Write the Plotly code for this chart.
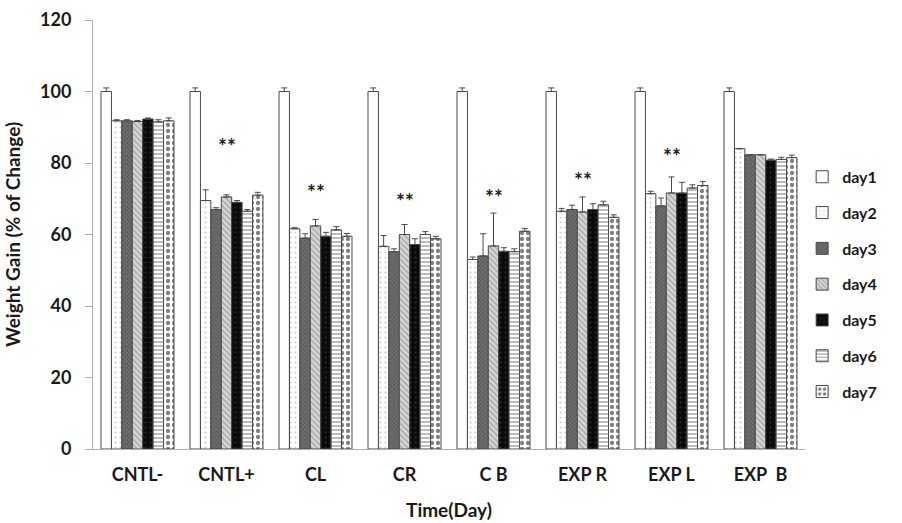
import plotly.graph_objects as go

categories = ["CNTL-", "CNTL+", "CL", "CR", "C B", "EXP R", "EXP L", "EXP  B"]
day_names = ["day1", "day2", "day3", "day4", "day5", "day6", "day7"]

# values per day across categories
day1 = [100, 100, 100, 100, 100, 100, 100, 100]
day2 = [91.8, 69.5, 61.6, 56.7, 53.0, 66.5, 71.4, 84.0]
day3 = [91.8, 67.0, 59.0, 55.2, 54.0, 67.0, 68.0, 82.3]
day4 = [91.6, 70.5, 62.4, 60.0, 56.8, 66.3, 71.6, 82.3]
day5 = [92.3, 69.0, 59.5, 57.2, 55.3, 67.0, 71.6, 80.8]
day6 = [91.5, 66.5, 61.3, 60.0, 55.2, 68.3, 73.0, 81.0]
day7 = [91.8, 71.0, 59.5, 58.8, 60.9, 64.8, 73.7, 81.5]

err1 = [1.0, 1.0, 1.0, 1.0, 1.0, 1.0, 1.0, 1.0]
err2 = [0.3, 3.0, 0.3, 3.0, 0.7, 0.8, 0.7, 0.0]
err3 = [0.3, 0.5, 1.2, 0.8, 6.2, 1.2, 2.2, 0.0]
err4 = [0.3, 0.6, 1.8, 2.8, 9.2, 4.2, 4.5, 0.0]
err5 = [0.3, 0.5, 1.1, 1.6, 1.0, 1.6, 3.0, 0.3]
err6 = [0.6, 0.5, 0.9, 0.8, 0.8, 1.0, 0.9, 0.6]
err7 = [0.8, 0.8, 0.8, 0.7, 0.8, 0.7, 1.1, 0.7]

sig_categories = ["CNTL+", "CL", "CR", "C B", "EXP R", "EXP L"]
sig_y = [85, 72, 69.6, 70.7, 75.5, 82]

y_ticks = [0, 20, 40, 60, 80, 100, 120]

values = [day1, day2, day3, day4, day5, day6, day7]
errors = [err1, err2, err3, err4, err5, err6, err7]

patterns = [
    dict(shape="", bgcolor="white"),
    dict(shape=".", bgcolor="white", fgcolor="#9a9a9a", size=5, solidity=0.15),
    dict(shape="x", bgcolor="#6e6e6e", fgcolor="#3a3a3a", size=3, solidity=0.4),
    dict(shape="\\", bgcolor="#d8d8d8", fgcolor="#7a7a7a", size=4, solidity=0.4),
    dict(shape=".", bgcolor="#0a0a0a", fgcolor="#4a4a4a", size=5, solidity=0.15),
    dict(shape="-", bgcolor="white", fgcolor="#555555", size=4, solidity=0.4),
    dict(shape=".", bgcolor="white", fgcolor="black", size=6, solidity=0.4),
]

FONT = "Lato"

fig = go.Figure()
for i, name in enumerate(day_names):
    fig.add_trace(go.Bar(
        x=categories, y=values[i], name=name,
        legendgroup=name,
        marker=dict(color="white", pattern=patterns[i],
                    line=dict(color="#4a4a4a", width=1)),
        error_y=dict(type="data", symmetric=False, array=errors[i],
                     arrayminus=[0] * len(categories),
                     color="#4a4a4a", thickness=1, width=3),
    ))

for c, yv in zip(sig_categories, sig_y):
    fig.add_annotation(x=c, y=yv, text="<b>**</b>", showarrow=False,
                       font=dict(size=21, color="#1a1a1a", family=FONT),
                       yanchor="middle")

fig.update_layout(
    width=902, height=523,
    margin=dict(l=93, r=97, t=20, b=74),
    paper_bgcolor="white", plot_bgcolor="white",
    barmode="group", bargap=0.18, bargroupgap=0,
    font=dict(family=FONT, color="#1a1a1a"),
    showlegend=True,
    legend=dict(x=0.996, y=0.674, xanchor="left", yanchor="top",
                bgcolor="rgba(0,0,0,0)",
                traceorder="grouped", tracegroupgap=12,
                font=dict(size=16, family=FONT, weight="bold"),
                itemwidth=30),
)
fig.update_xaxes(
    automargin=False,
    showline=True, linecolor="#b0b0b0", linewidth=1,
    ticks="", tickfont=dict(size=18, family=FONT, weight="bold"),
    ticklabelstandoff=9,
    title=dict(text="Time(Day)", font=dict(size=19, family=FONT, weight="bold"), standoff=20),
)
fig.update_yaxes(
    automargin=False,
    range=[0, 120], tickvals=y_ticks, showgrid=False, zeroline=False,
    showline=True, linecolor="#b0b0b0", linewidth=1,
    ticks="outside", tickcolor="#b0b0b0", ticklen=7,
    ticklabelstandoff=10,
    tickfont=dict(size=18, family=FONT, weight="bold"),
    title=dict(text="Weight Gain (% of Change)", font=dict(size=19, family=FONT, weight="bold"), standoff=14),
)

fig.write_html("out.html", config={"displayModeBar": False},
               post_script="document.body.style.margin='0px';")
